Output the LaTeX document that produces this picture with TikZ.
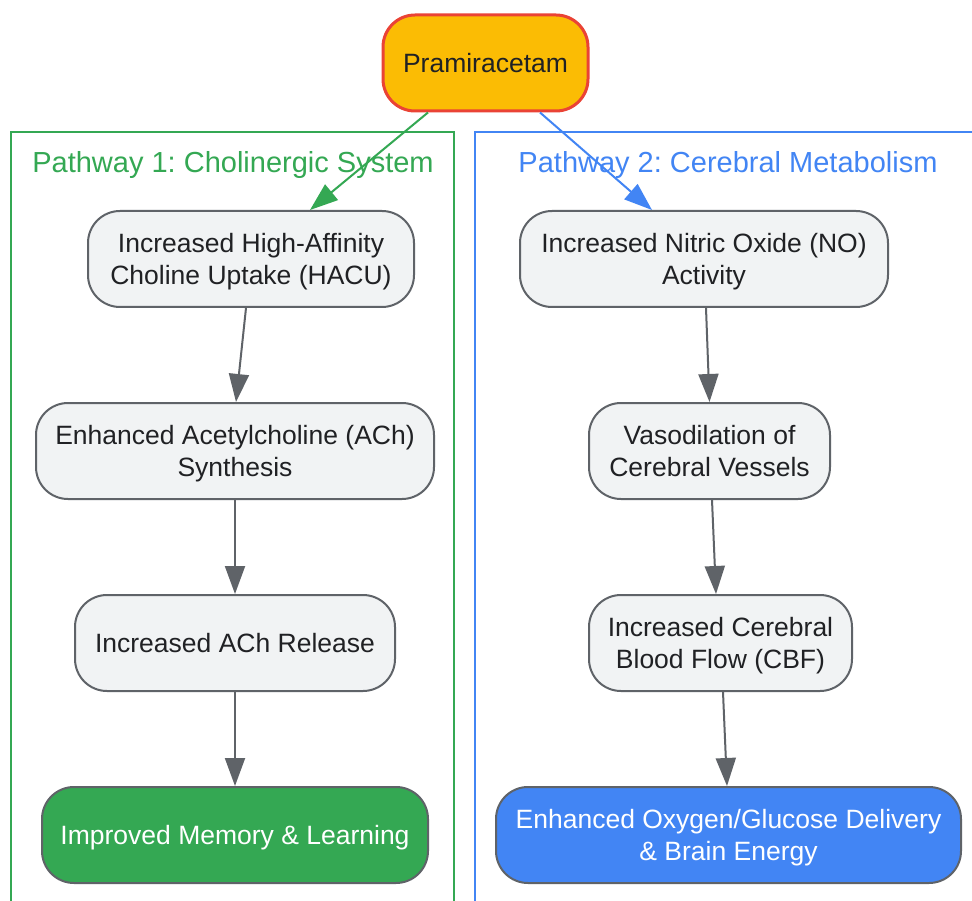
\documentclass[tikz,border=0pt]{standalone}
\usepackage{fontspec}
\setmainfont{Liberation Sans}
\usetikzlibrary{arrows.meta}
\definecolor{edgegray}{HTML}{5F6368}
\definecolor{boxfill}{HTML}{F1F3F4}
\definecolor{txtdark}{HTML}{202124}
\definecolor{ggreen}{HTML}{34A853}
\definecolor{gblue}{HTML}{4285F4}
\definecolor{gyellow}{HTML}{FBBC04}
\definecolor{gred}{HTML}{EA4335}
\newcommand\lnstrut{\rule[-5.3pt]{0pt}{29.3pt}}
\frenchspacing
\tikzset{
  box/.style={draw=edgegray, line width=2pt, fill=boxfill, rounded corners=32pt,
    minimum height=96pt, align=center, inner sep=0pt, text=txtdark,
    font=\fontsize{26.5}{32}\selectfont},
  cluster/.style={line width=2pt},
  ctitle/.style={font=\fontsize{29}{32}\selectfont, inner sep=0pt},
  flow/.style={draw=edgegray, line width=2pt, -{Triangle[length=28pt,width=20pt]}},
}
\begin{document}
\begin{tikzpicture}[x=1pt,y=-1pt]
\useasboundingbox (0,0) rectangle (972,901);
\clip (0,0) rectangle (972,901);
\fill[white] (0,0) rectangle (972,901);
% clusters
\draw[cluster, draw=ggreen] (11,132) rectangle (454,910);
\draw[cluster, draw=gblue] (475,132) rectangle (985,910);
\node[ctitle, text=ggreen] (t1) at (233,164) {\lnstrut Pathway 1: Cholinergic System};
\node[ctitle, text=gblue] (t2) at (728,164) {\lnstrut Pathway 2: Cerebral Metabolism};
% nodes
\node[box, fill=gyellow, draw=gred, line width=3pt, minimum width=205pt, rounded corners=32pt] (p) at (485.5,63) {\lnstrut Pramiracetam};
\node[box, minimum width=326pt] (a1) at (251,259) {\lnstrut Increased High-Affinity\\\lnstrut Choline Uptake (HACU)};
\node[box, minimum width=398pt] (a2) at (235,451) {\lnstrut Enhanced Acetylcholine (ACh)\\\lnstrut Synthesis};
\node[box, minimum width=320pt] (a3) at (235,643) {\lnstrut Increased ACh Release};
\node[box, minimum width=386pt, fill=ggreen, text=white] (a4) at (235,835) {\lnstrut Improved Memory \& Learning};
\node[box, minimum width=368pt] (b1) at (704,259) {\lnstrut Increased Nitric Oxide (NO)\\\lnstrut Activity};
\node[box, minimum width=241pt] (b2) at (709.5,451) {\lnstrut Vasodilation of\\\lnstrut Cerebral Vessels};
\node[box, minimum width=263pt] (b3) at (720.5,643) {\lnstrut Increased Cerebral\\\lnstrut Blood Flow (CBF)};
\node[box, minimum width=465pt, fill=gblue, text=white] (b4) at (728.5,835) {\lnstrut Enhanced Oxygen/Glucose Delivery\\\lnstrut \& Brain Energy};
% connectors
\draw[flow, draw=ggreen, -{Triangle[length=28pt,width=20pt,fill=ggreen]}] ([xshift=-57.5pt]p.south) -- ([xshift=59pt]a1.north);
\draw[flow, draw=gblue, -{Triangle[length=28pt,width=20pt,fill=gblue]}] ([xshift=54.5pt]p.south) -- ([xshift=-52pt]b1.north);
\draw[flow] ([xshift=-5pt]a1.south) -- ([xshift=1pt]a2.north);
\draw[flow] (a2.south) -- (a3.north);
\draw[flow] (a3.south) -- (a4.north);
\draw[flow] ([xshift=2pt]b1.south) -- (b2.north);
\draw[flow] ([xshift=2.5pt]b2.south) -- ([xshift=-4.5pt]b3.north);
\draw[flow] ([xshift=2.5pt]b3.south) -- ([xshift=-1.5pt]b4.north);
\end{tikzpicture}
\end{document}
